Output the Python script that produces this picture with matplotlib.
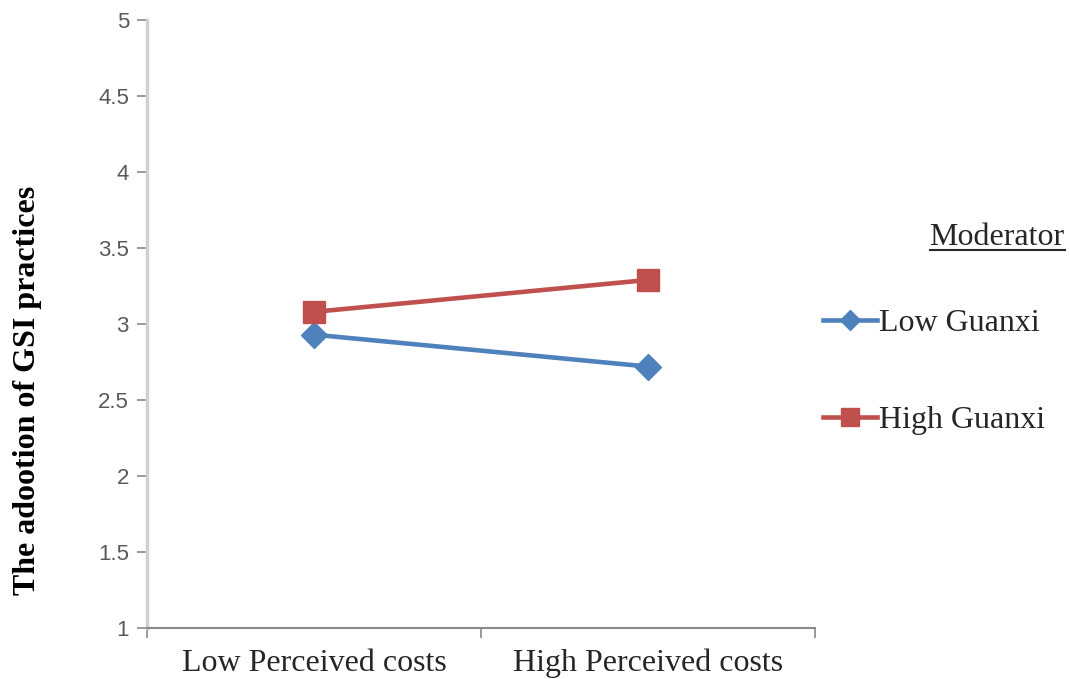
import matplotlib.pyplot as plt
from matplotlib.lines import Line2D

categories = ["Low Perceived costs", "High Perceived costs"]
low_guanxi = [2.93, 2.72]
high_guanxi = [3.08, 3.29]
y_ticks = [1, 1.5, 2, 2.5, 3, 3.5, 4, 4.5, 5]

blue = "#4F81BD"
red = "#C0504D"
serif = "Liberation Serif"

fig = plt.figure(figsize=(10.7, 6.79), dpi=100)
ax = fig.add_axes([0.1374, 0.0751, 0.6243, 0.8954])

xpos = [0.5, 1.5]
ax.plot(xpos, low_guanxi, color=blue, lw=3.3, marker="D", ms=13, label="Low Guanxi")
ax.plot(xpos, high_guanxi, color=red, lw=3.3, marker="s", ms=16, label="High Guanxi")

ax.set_xlim(0, 2)
ax.set_ylim(1, 5)
ax.set_yticks(y_ticks)
ax.set_yticklabels([f"{v:g}" for v in y_ticks], fontfamily="Liberation Sans",
                   fontsize=16, color="#595959")
# category ticks sit between the groups, labels centred under each group
ax.set_xticks([0, 1, 2])
ax.set_xticklabels([])
ax.set_xticks(xpos, minor=True)
ax.set_xticklabels(categories, minor=True, fontfamily=serif,
                   fontsize=23, color="#262626")
ax.tick_params(axis="x", which="minor", length=0, pad=15)
ax.tick_params(axis="x", which="major", length=7, color="#898989", width=1.2)
ax.tick_params(axis="y", length=7, color="#898989", width=1.2, pad=6)

for s in ["top", "right"]:
    ax.spines[s].set_visible(False)
ax.spines["left"].set_color("#D0D0D0")
ax.spines["left"].set_linewidth(2.5)
ax.spines["bottom"].set_color("#898989")
ax.spines["bottom"].set_linewidth(1.5)

fig.text(0.026, 0.4256, "The adootion of GSI practices", rotation=90,
         ha="center", va="center", fontfamily=serif, fontweight="bold", fontsize=23)

# legend block on the right
fig.text(0.995, 0.639, "Moderator", ha="right", va="baseline",
         fontfamily=serif, fontsize=23, color="#262626")
fig.add_artist(Line2D([0.869, 0.995], [0.632, 0.632], color="#262626", lw=1.5))
leg = ax.legend(loc="upper left", bbox_to_anchor=(0.769, 0.545), bbox_transform=fig.transFigure,
                frameon=False, borderpad=0, borderaxespad=0, handlelength=1.7,
                handletextpad=0.05, labelspacing=2.1, prop={"family": serif, "size": 23})
for t in leg.get_texts():
    t.set_color("#262626")
for h, ms in zip(leg.legend_handles, [10, 13]):
    h.set_markersize(ms)

fig.savefig("out.png", dpi=100)
